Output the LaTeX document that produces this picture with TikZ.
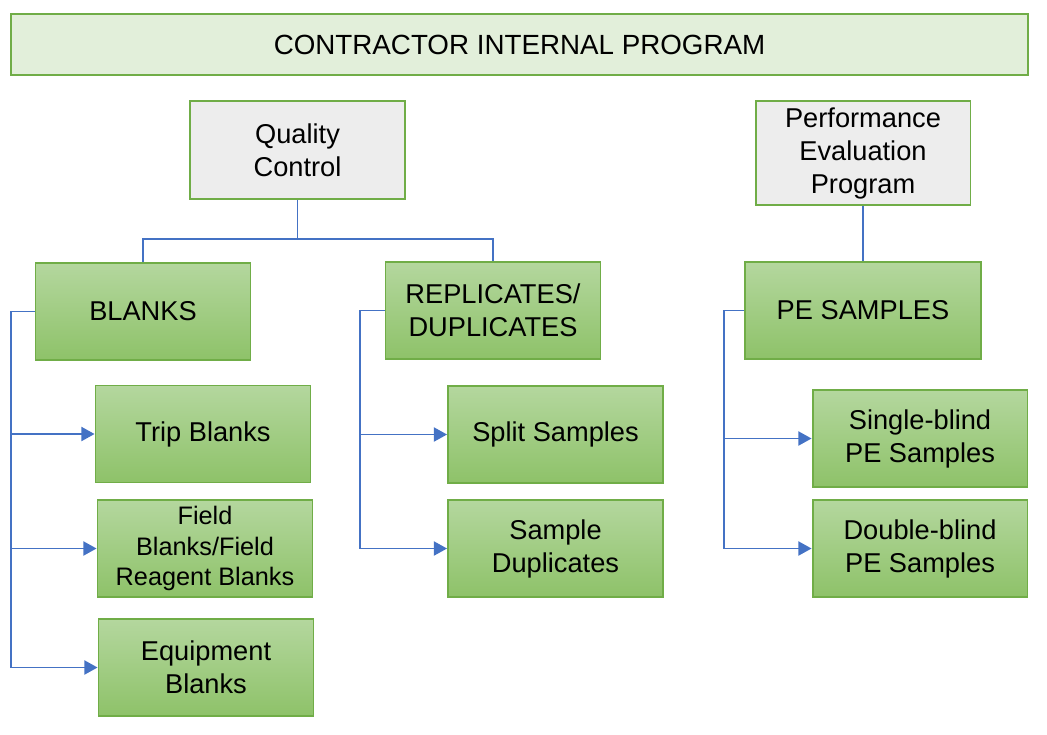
\documentclass[tikz,border=0pt]{standalone}
\usepackage{fontspec}
\setmainfont{Liberation Sans}
\usetikzlibrary{arrows.meta, positioning}

\definecolor{edgegreen}{HTML}{70AD47}
\definecolor{palegreen}{HTML}{E2EFDA}
\definecolor{boxtop}{HTML}{B4D79E}
\definecolor{boxbot}{HTML}{8EC269}
\definecolor{greyfill}{HTML}{EDEDED}
\definecolor{linkblue}{HTML}{4472C4}

\begin{document}
\begin{tikzpicture}[
  x=0.02cm, y=-0.02cm,
  banner/.style={draw=edgegreen, line width=1.1pt, fill=palegreen,
                 minimum width=20.34cm, minimum height=1.22cm,
                 font=\fontsize{15.8}{18}\selectfont},
  headbox/.style={draw=edgegreen, line width=1.1pt, fill=greyfill,
                  minimum width=4.3cm, minimum height=1.96cm,
                  align=center, font=\fontsize{15.5}{18.8}\selectfont},
  gbox/.style={draw=edgegreen, line width=1.1pt,
               top color=boxtop, bottom color=boxbot,
               minimum width=4.3cm, minimum height=1.94cm,
               align=center, font=\fontsize{15.5}{18.8}\selectfont},
  link/.style={draw=linkblue, line width=1.1pt},
  arr/.style={link, -{Triangle[length=7.5pt, width=8pt]}}
]
  \useasboundingbox (0,0) rectangle (1047,734);

  \node[banner] (top) at (519.5,44.5) {CONTRACTOR INTERNAL PROGRAM};

  \node[headbox] (qc) at (297.5,150) {Quality\\Control};
  \node[headbox] (pep) at (863,153) {Performance\\Evaluation\\Program};

  \node[gbox] (blanks) at (143,311.5) {BLANKS};
  \node[gbox] (rep) at (493,310.5) {REPLICATES/\\DUPLICATES};
  \node[gbox, minimum width=4.72cm] (pes) at (863,310.5) {PE SAMPLES};

  \node[gbox] (trip) at (203,434) {Trip Blanks};
  \node[gbox, font=\fontsize{14.4}{17.3}\selectfont] (field) at (205,548.5)
    {Field\\Blanks/Field\\Reagent Blanks};
  \node[gbox] (equip) at (206,667.5) {Equipment\\Blanks};

  \node[gbox] (split) at (555.5,434.5) {Split Samples};
  \node[gbox] (dup) at (555.5,548.5) {Sample\\Duplicates};

  \node[gbox] (single) at (920,438.5) {Single-blind\\PE Samples};
  \node[gbox] (double) at (920,548.5) {Double-blind\\PE Samples};

  % tree links
  \draw[link] (qc.south) -- ++(0,39) -| (blanks.north);
  \draw[link] (qc.south) -- ++(0,39) -| (rep.north);
  \draw[link] (pep.south) -- (pes.north);

  \draw[arr] (blanks.west) -- ++(-24,0) |- (trip.west);
  \draw[arr] (blanks.west) -- ++(-24,0) |- (field.west);
  \draw[arr] (blanks.west) -- ++(-24,0) |- (equip.west);

  \draw[arr] (rep.west) -- ++(-25,0) |- (split.west);
  \draw[arr] (rep.west) -- ++(-25,0) |- (dup.west);

  \draw[arr] (pes.west) -- ++(-20,0) |- (single.west);
  \draw[arr] (pes.west) -- ++(-20,0) |- (double.west);
\end{tikzpicture}
\end{document}
